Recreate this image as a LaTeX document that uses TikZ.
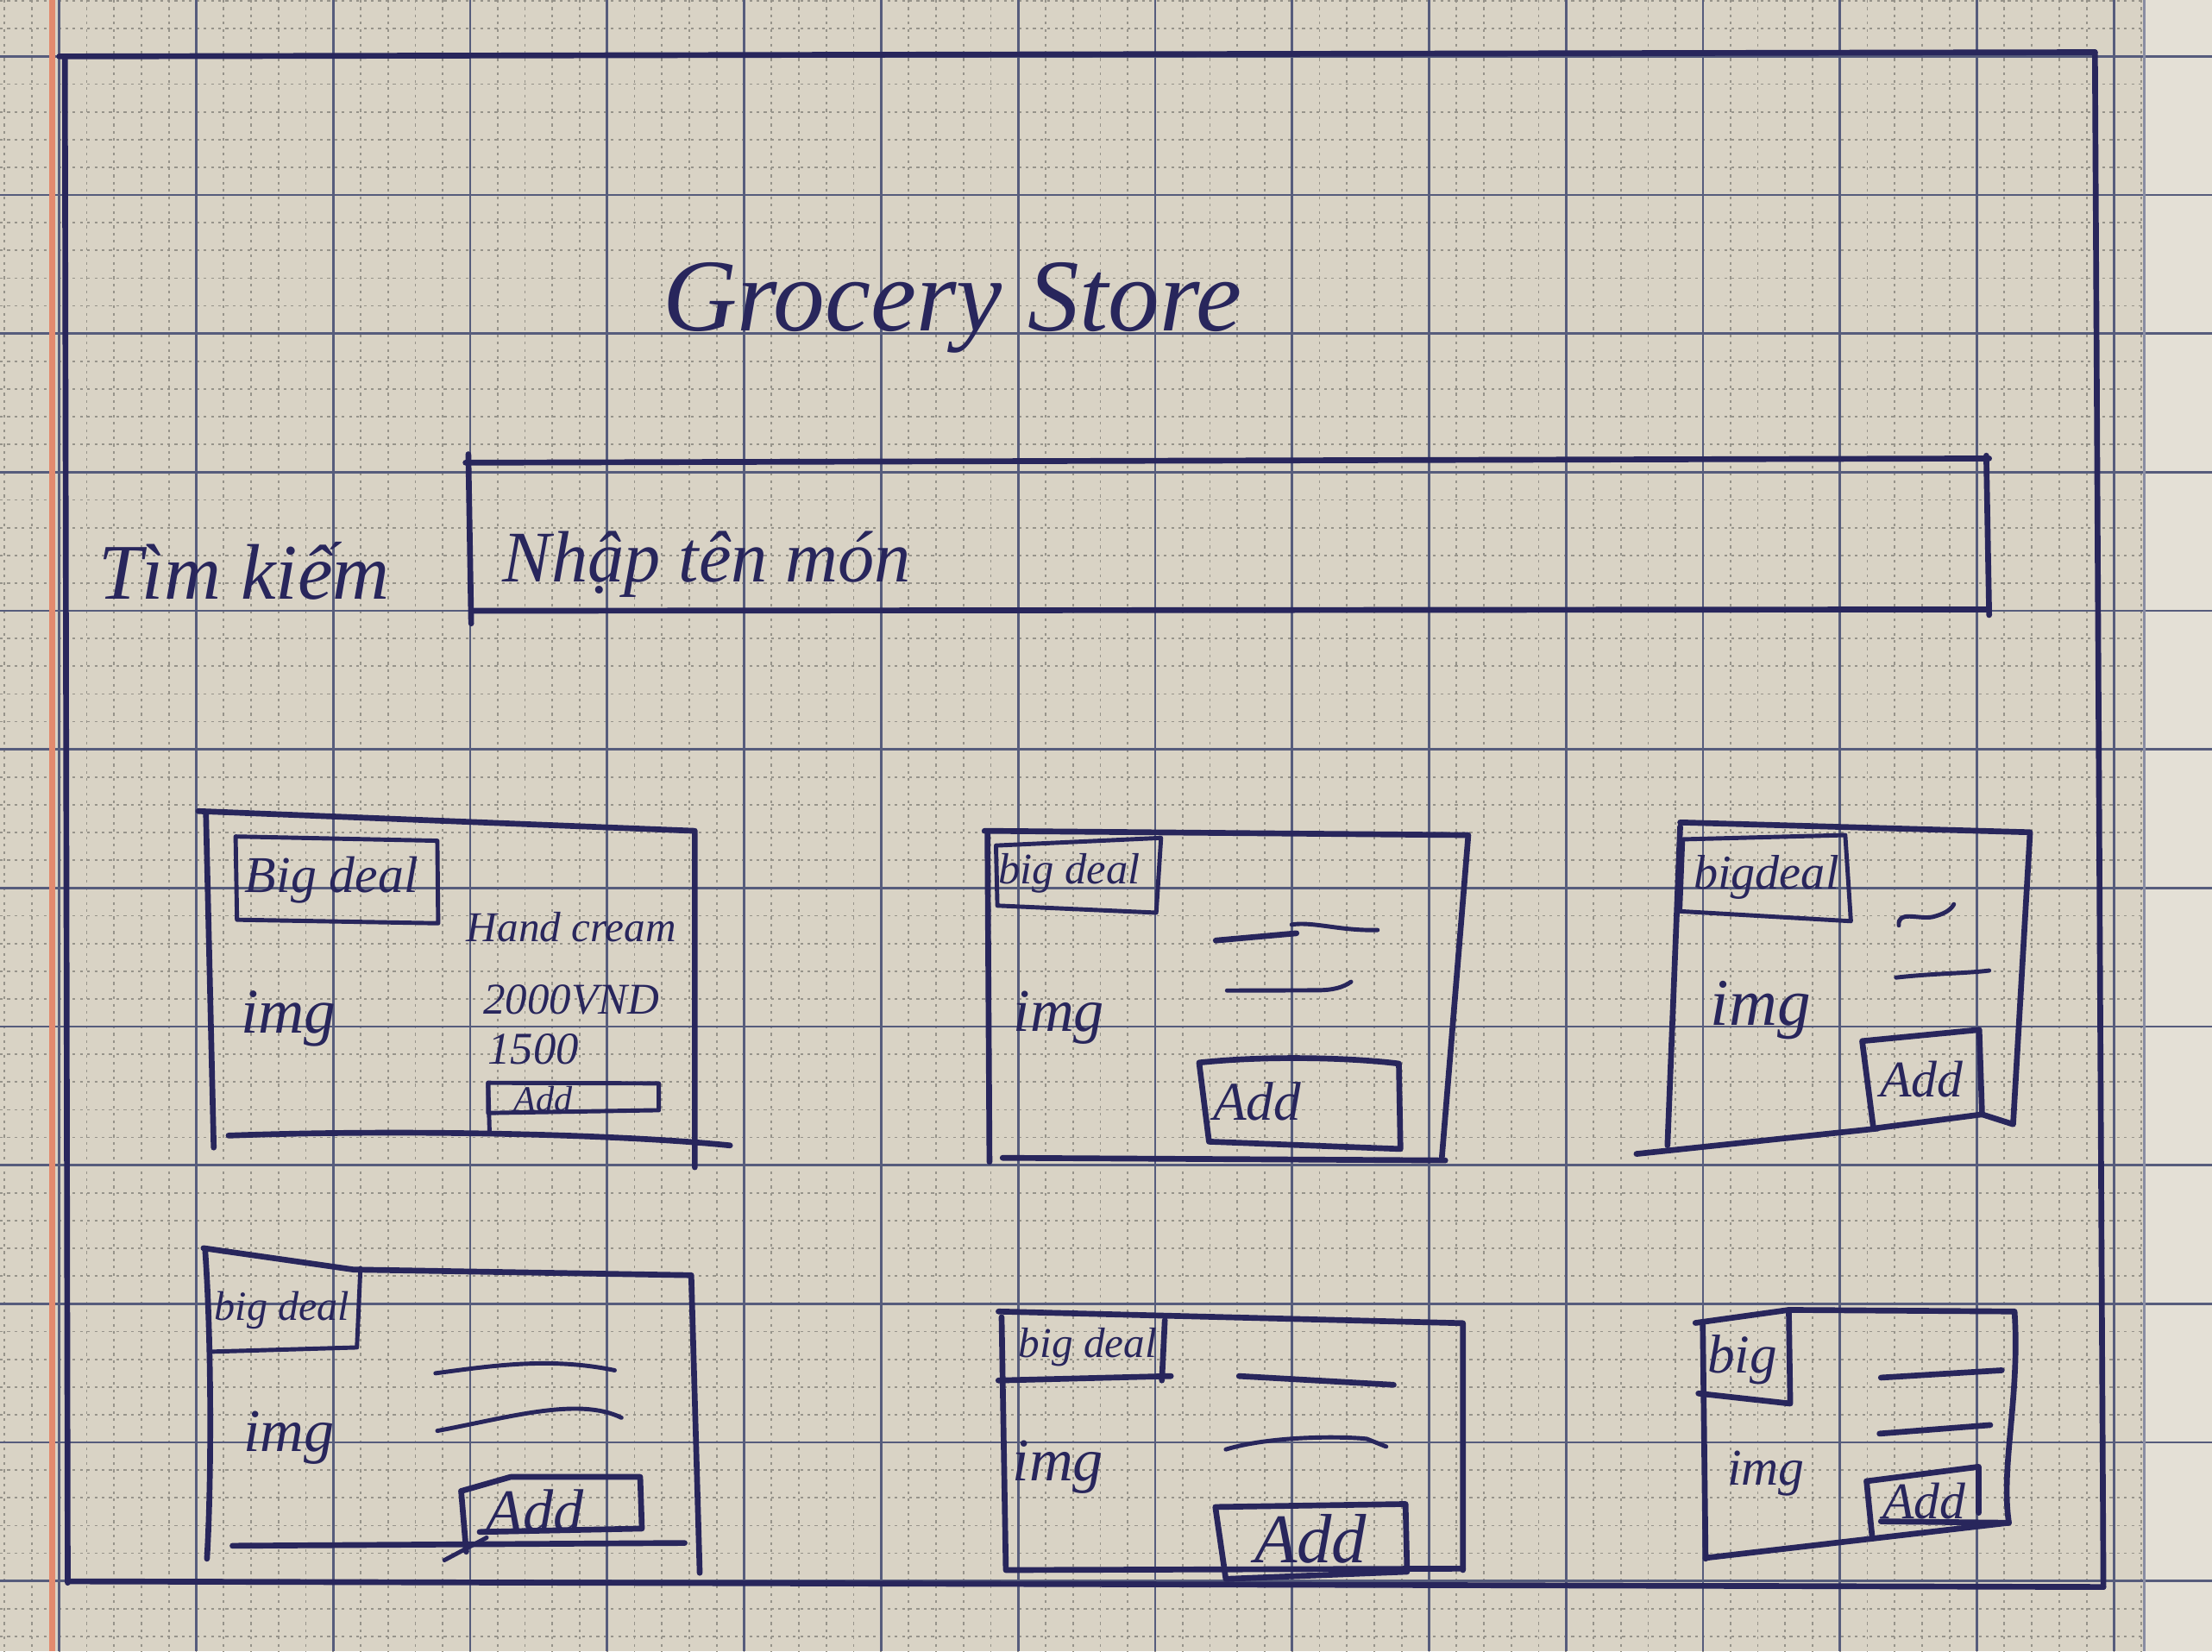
\documentclass[tikz,border=0pt]{standalone}
\usepackage{fontspec}
\setmainfont{Liberation Serif}
\definecolor{paper}{RGB}{217,211,197}
\definecolor{nextpage}{RGB}{228,224,214}
\definecolor{gridmajor}{RGB}{86,92,124}
\definecolor{gridminor}{RGB}{150,147,138}
\definecolor{ink}{RGB}{40,38,92}
\definecolor{margin}{RGB}{226,138,110}
\newcommand{\hs}[1]{\itshape\fontsize{#1}{#1}\selectfont}
\begin{document}
\begin{tikzpicture}[x=0.01635cm,y=-0.01635cm,
  pen/.style={draw=ink, line width=1.9pt, line cap=round, line join=round},
  thinpen/.style={draw=ink, line width=1.4pt, line cap=round, line join=round},
  hand/.style={text=ink, inner sep=0pt},
  minorline/.style={draw=gridminor, line width=0.5pt, dash pattern=on 0.9pt off 1.5pt},
  majorline/.style={draw=gridmajor, line width=0.8pt},
]
\useasboundingbox (0,0) rectangle (1568,1170.6);
% paper and the edge of the next sheet
\fill[paper] (0,0) rectangle (1568,1170.6);
\fill[nextpage] (1520,0) rectangle (1568,1170.6);
\foreach \j in {-1,...,11}
  \draw[majorline] (1520,{40+\j*98.25}) -- (1568,{40+\j*98.25});
\draw[gridmajor!70, line width=1pt] (1520,0) -- (1520,1170.6);

% graph paper grid
\begin{scope}
  \clip (0,0) rectangle (1519,1170.6);
  \foreach \i in {-3,...,78}
    \draw[minorline] ({42+\i*19.42},0) -- ({42+\i*19.42},1170.6);
  \foreach \j in {-3,...,58}
    \draw[minorline] (0,{40+\j*19.65}) -- (1520,{40+\j*19.65});
  \foreach \i in {-1,...,15}
    \draw[majorline] ({42+\i*97.1},0) -- ({42+\i*97.1},1170.6);
  \foreach \j in {-1,...,11}
    \draw[majorline] (0,{40+\j*98.25}) -- (1520,{40+\j*98.25});
\end{scope}

% margin line
\draw[margin, line width=1.8pt] (37,0) -- (37,1170.6);

% page frame
\draw[pen] (42,40) -- (1485,37);
\draw[pen] (1485,37) -- (1491,1125);
\draw[pen] (46,40) -- (48,1122);
\draw[pen] (48,1121) -- (1491,1125);

% header
\node[hand, font=\hs{34}] (title) at (675,218) {Grocery Store};

% search bar
\node[hand, font=\hs{26}] (searchlabel) at (173,405) {Tìm kiếm};
\draw[pen] (330,328) -- (1410,325);
\draw[pen] (1408,323) -- (1410,436);
\draw[pen] (334,433) -- (1410,432);
\draw[pen] (332,322) -- (334,442);
\node[hand, font=\hs{24}, anchor=west] (searchhint) at (356,400) {Nhập tên món};

% card 1
\draw[pen] (140.6,575) -- (492.5,589) -- (492.5,827.5);
\draw[pen] (146,577) -- (151.5,813.5);
\draw[pen] (162,805) .. controls (300,800) and (450,805) .. (517.5,812);
\draw[thinpen] (167,593) -- (310,596) -- (310.6,654.5) -- (168,652) -- cycle;
\node[hand, font=\hs{17}] (c1deal) at (235,624) {Big deal};
\node[hand, font=\hs{21}] (c1img) at (204.5,722) {img};
\node[hand, font=\hs{14}] (c1name) at (405,657) {Hand cream};
\node[hand, font=\hs{14.5}] (c1price) at (405,709) {2000VND};
\node[hand, font=\hs{15}] (c1qty) at (378,744) {1500};
\draw[thinpen] (346,767.6) -- (467,768) -- (467,787) -- (346,789) -- cycle;
\draw[thinpen] (346,767.6) -- (347,802);
\node[hand, font=\hs{12}] (c1add) at (385,779) {Add};

% card 2
\draw[pen] (697.9,589) -- (1040.8,592) -- (1022,821.5);
\draw[pen] (700,591) -- (701.4,823.7);
\draw[pen] (710.7,820.8) -- (1024.5,822.6);
\draw[thinpen] (706,599.4) -- (823,594) -- (819.6,647) -- (707,642) -- cycle;
\node[hand, font=\hs{14.4}] (c2deal) at (758,619) {big deal};
\node[hand, font=\hs{20}] (c2img) at (750.5,721.7) {img};
\draw[pen] (861.8,666.7) -- (919,661.6);
\draw[thinpen] (915.6,655.5) .. controls (930,653) and (950,660) .. (976.5,659.3);
\draw[thinpen] (869.8,702.2) -- (933,702) .. controls (945,702) and (952,700) .. (957.7,696);
\draw[pen] (850,753.3) .. controls (900,748) and (960,750) .. (991.6,754) -- (992.7,814.5) -- (857,809.3) -- cycle;
\node[hand, font=\hs{18}] (c2add) at (891,780.8) {Add};

% card 3
\draw[pen] (1191,583) -- (1439,590) -- (1427,797) -- (1405,790);
\draw[pen] (1191,586) -- (1182,812);
\draw[pen] (1160,818) -- (1331,800);
\draw[thinpen] (1193,595) -- (1308,592) -- (1312,653) -- (1191,646) -- cycle;
\node[hand, font=\hs{16}] (c3deal) at (1252,622) {bigdeal};
\node[hand, font=\hs{22}] (c3img) at (1248,716) {img};
\draw[thinpen] (1346,656) .. controls (1345,645) and (1360,652) .. (1370,650) .. controls (1378,648) and (1383,645) .. (1385,641);
\draw[thinpen] (1344,693) .. controls (1370,690) and (1395,690) .. (1410,688);
\draw[pen] (1320,738) -- (1403,730) -- (1405,790) -- (1328,800) -- cycle;
\node[hand, font=\hs{17}] (c3add) at (1362,765) {Add};

% card 4
\draw[pen] (144.2,884.8) -- (250.6,900) -- (490,904) -- (496,1115);
\draw[pen] (145.4,886) .. controls (150,950) and (150,1050) .. (146.7,1105);
\draw[pen] (164.8,1095.8) -- (485.3,1093.8);
\draw[thinpen] (255.5,899) -- (253,955.2) -- (150.3,958.2);
\node[hand, font=\hs{13.7}] (c4deal) at (200,928.7) {big deal};
\node[hand, font=\hs{20}] (c4img) at (204.7,1019.4) {img};
\draw[thinpen] (308.7,973.5) .. controls (350,968) and (390,962) .. (435.7,971.4);
\draw[thinpen] (310,1014.3) .. controls (360,1005) and (410,990) .. (440.5,1005);
\draw[pen] (326.9,1057) -- (361.9,1047) -- (453.8,1047) -- (455,1083.6) -- (340,1086);
\draw[pen] (326.9,1057) -- (330.5,1100);
\draw[thinpen] (315,1106) -- (345,1090);
\node[hand, font=\hs{20}] (c4add) at (379,1071) {Add};

% card 5
\draw[pen] (707.8,929.7) -- (1037,938) -- (1037,1113);
\draw[pen] (710,933.7) -- (713,1113);
\draw[pen] (713.5,1113) -- (1037,1112);
\draw[pen] (825.7,935.8) -- (823.6,978.6);
\draw[pen] (707.7,978.6) -- (830,975.5);
\node[hand, font=\hs{14}] (c5deal) at (771,955.2) {big deal};
\node[hand, font=\hs{20}] (c5img) at (750,1039.8) {img};
\draw[pen] (878.3,975.5) -- (987.9,981.7);
\draw[thinpen] (868.9,1027.5) .. controls (900,1018) and (950,1018) .. (968.8,1020) -- (982.6,1025.5);
\draw[pen] (861.5,1068.3) -- (996.3,1066.2) -- (997.4,1114.2) -- (868.9,1119.3) -- cycle;
\node[hand, font=\hs{23}] (c5add) at (929,1090.7) {Add};

% card 6
\draw[pen] (1201.8,937.8) -- (1268,928.6) -- (1428,929.7) .. controls (1432,990) and (1418,1040) .. (1424,1079.5) -- (1327.2,1090.7) -- (1209,1104.4);
\draw[pen] (1207,937.8) -- (1209,1105);
\draw[pen] (1268,928.6) -- (1269,995) -- (1203.9,987.8);
\node[hand, font=\hs{18}] (c6deal) at (1235,964) {big};
\node[hand, font=\hs{17}] (c6img) at (1251.8,1044.8) {img};
\draw[pen] (1333.3,976.6) -- (1419,971.4);
\draw[pen] (1332.3,1016.3) -- (1410.8,1010.2);
\draw[pen] (1323.1,1050) -- (1402.6,1039.8) -- (1402.6,1072.4);
\draw[pen] (1323.1,1050) -- (1327.2,1090.7);
\draw[pen] (1333.3,1078.5) -- (1424,1079.5);
\node[hand, font=\hs{17}] (c6add) at (1364,1064) {Add};
\end{tikzpicture}
\end{document}
